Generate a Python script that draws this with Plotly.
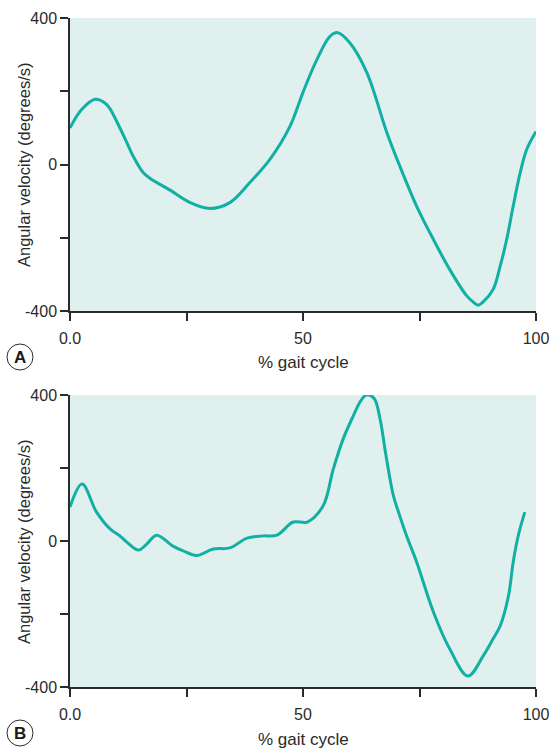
import plotly.graph_objects as go

# Panel A: angular velocity over the gait cycle
gait_a = [0, 2.5, 5.4, 7.5, 8.6, 10, 12.2, 13.5, 15.7, 17.2, 21.5, 25.8, 30, 34.3,
          38.6, 42.9, 47.2, 50, 53, 55.8, 57.5, 60, 63.7, 68, 70.8, 74.4, 78,
          81.5, 85.1, 86.5, 87.6, 88.6, 90.8, 92.3, 93.7, 95.1, 96.6, 98, 100]
vel_a = [100, 150, 178, 168, 152, 118, 60, 24, -22, -38, -70, -104, -120, -104,
         -49, 14, 104, 197, 287, 350, 360, 333, 251, 87, -5, -114, -205, -287,
         -358, -375, -384, -376, -341, -278, -205, -114, -23, 41, 90]

# Panel B
gait_b = [0, 2.6, 5.7, 8.6, 10.7, 12.2, 14.7, 16.5, 18.6, 22.1, 24.3, 27.2, 30.7,
          34.3, 38, 41.4, 44.4, 47.9, 50.9, 54.3, 56.5, 58.6, 60.8, 62.2, 63.3,
          64.2, 65.4, 66.6, 67.8, 69.4, 70.5, 72.2, 74.4, 78, 81.5, 85.4, 88.7,
          90.8, 92.3, 94.1, 95.1, 96.2, 97.6]
vel_b = [93, 156, 79, 33, 14, -3, -25, -8, 16, -14, -27, -40, -22, -19, 8, 14, 16,
         52, 52, 96, 197, 279, 343, 380, 398, 400, 388, 330, 235, 124, 79, 15,
         -58, -195, -296, -370, -314, -268, -233, -150, -58, 15, 79]

x_ticks = [0, 25, 50, 75, 100]
x_labels = ["0.0", "", "50", "", "100"]
y_ticks = [-400, -200, 0, 200, 400]
y_labels = ["-400", "", "0", "", "400"]

LINE = "#12b0a3"
BG = "#e0f0ee"
INK = "#2b2b2b"
FONT = "Liberation Sans, Arial, sans-serif"

fig = go.Figure()
fig.add_trace(go.Scatter(x=gait_a, y=vel_a, mode="lines", xaxis="x", yaxis="y",
                         line=dict(color=LINE, width=3, shape="spline", smoothing=1.0),
                         showlegend=False))
fig.add_trace(go.Scatter(x=gait_b, y=vel_b, mode="lines", xaxis="x2", yaxis="y2",
                         line=dict(color=LINE, width=3, shape="spline", smoothing=1.0),
                         showlegend=False))

xcommon = dict(range=[0, 100], tickvals=x_ticks, ticktext=x_labels, showline=True,
               linecolor=INK, linewidth=1.5, ticks="outside", ticklen=8, tickwidth=1.5,
               tickcolor=INK, showgrid=False, zeroline=False, automargin=False,
               ticklabelstandoff=4,
               tickfont=dict(size=16, color=INK, family=FONT))
ycommon = dict(range=[-400, 400], tickvals=y_ticks, ticktext=y_labels, showline=True,
               linecolor=INK, linewidth=1.5, ticks="outside", ticklen=8, tickwidth=1.5,
               tickcolor=INK, showgrid=False, zeroline=False, automargin=False,
               tickfont=dict(size=16, color=INK, family=FONT))

fig.update_layout(
    width=551, height=749,
    margin=dict(l=70, r=15, t=18, b=62, autoexpand=False),
    paper_bgcolor="white", plot_bgcolor=BG,
    font=dict(family=FONT, color=INK),
    xaxis=dict(domain=[0, 1], anchor="y", **xcommon),
    yaxis=dict(domain=[0.562, 1.0], anchor="x", **ycommon),
    xaxis2=dict(domain=[0, 1], anchor="y2", **xcommon),
    yaxis2=dict(domain=[0.0, 0.4365], anchor="x2", **ycommon),
)

# Axis titles and panel letters, placed in pixel terms of the page
PW, PH = 466, 669
def px(xp):
    return (xp - 70) / PW
def py(yp):
    return (687 - yp) / PH

for yc, xt_y, letter, ly in [(165, 362, "A", 357), (542, 739, "B", 733)]:
    fig.add_annotation(text="Angular velocity (degrees/s)", textangle=-90,
                       x=px(24), y=py(yc), xref="paper", yref="paper",
                       xanchor="center", yanchor="middle",
                       showarrow=False, font=dict(size=16.5, color=INK, family=FONT))
    fig.add_annotation(text="% gait cycle", x=px(303), y=py(xt_y), xref="paper",
                       yref="paper", xanchor="center", yanchor="middle",
                       showarrow=False, font=dict(size=17, color=INK, family=FONT))
    fig.add_shape(type="circle", xref="paper", yref="paper",
                  x0=px(20 - 13), x1=px(20 + 13), y0=py(ly + 13), y1=py(ly - 13),
                  line=dict(color=INK, width=1))
    fig.add_annotation(text="<b>" + letter + "</b>", x=px(20), y=py(ly), xref="paper",
                       yref="paper", xanchor="center", yanchor="middle",
                       showarrow=False, font=dict(size=17, color="#1a1a1a", family=FONT))

fig.write_html("out.html")
